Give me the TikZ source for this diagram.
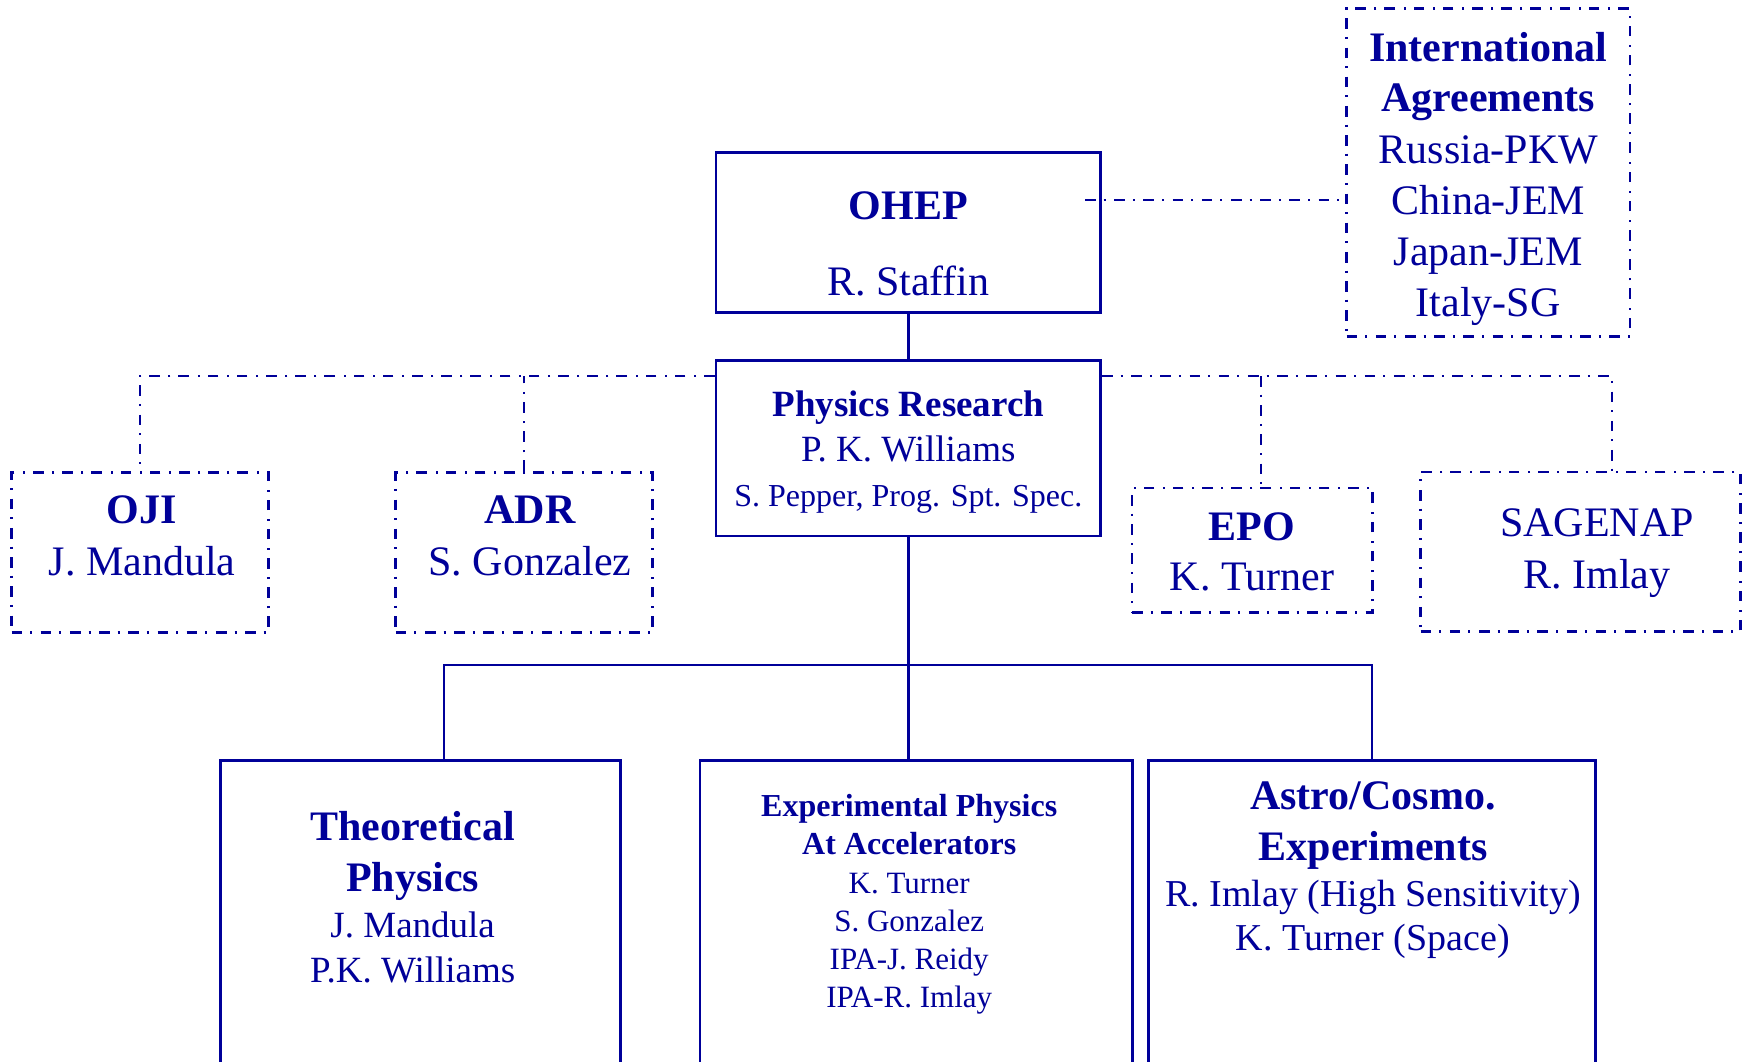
\documentclass[tikz,border=0pt]{standalone}
\usepackage{fontspec}
\setmainfont{Liberation Serif}
\definecolor{ohepBlue}{HTML}{000099}

\begin{document}
\begin{tikzpicture}[x=0.5pt, y=-0.5pt,
	solidline/.style={draw=ohepBlue, line width=1.35pt},
	ddline/.style={draw=ohepBlue, line width=1.35pt, dash pattern=on 5.3pt off 4pt on 1pt off 4.3pt},
	solidbox/.style={solidline, inner sep=0pt},
	ddbox/.style={ddline, inner sep=0pt},
	txt/.style={anchor=base, inner sep=0pt, text=ohepBlue},
	hdB/.style={txt, font=\fontsize{21}{25}\selectfont\bfseries},
	hdR/.style={txt, font=\fontsize{21}{25}\selectfont},
	mdB/.style={txt, font=\fontsize{18.5}{22}\selectfont\bfseries},
	mdR/.style={txt, font=\fontsize{18.5}{22}\selectfont},
	asR/.style={txt, font=\fontsize{19}{22}\selectfont},
	smR/.style={txt, font=\fontsize{16}{19}\selectfont},
	exB/.style={txt, font=\fontsize{16}{19}\selectfont\bfseries},
	exR/.style={txt, font=\fontsize{15.5}{19}\selectfont}]
	\useasboundingbox (0,0) rectangle (1746,1061);
	\clip (0,0) rectangle (1746,1061);
	% boxes
	\node[solidbox, minimum width=192.3pt, minimum height=79.8pt] (ohep) at (908.3,232.5) {};
	\node[solidbox, minimum width=192.3pt, minimum height=87.8pt] (pr) at (908.3,448.2) {};
	\node[ddbox, minimum width=141.7pt, minimum height=164.2pt] (intl) at (1488.3,172.5) {};
	\node[ddbox, minimum width=128.5pt, minimum height=80.2pt] (oji) at (140,552.5) {};
	\node[ddbox, minimum width=128.3pt, minimum height=80.2pt] (adr) at (524.1,552.5) {};
	\node[ddbox, minimum width=120.4pt, minimum height=62.3pt] (epo) at (1252.4,550.3) {};
	\node[ddbox, minimum width=160pt, minimum height=79.8pt] (sag) at (1580.6,551.8) {};
	\node[solidbox, minimum width=200pt, minimum height=170pt] (theo) at (420.7,930.7) {};
	\node[solidbox, minimum width=216.2pt, minimum height=170pt] (exp) at (916.2,930.7) {};
	\node[solidbox, minimum width=223.5pt, minimum height=170pt] (astro) at (1372.2,930.7) {};
	% texts
	\foreach \n/\s/\y/\t in {1/hdB/219/OHEP, 2/hdR/295.7/R. Staffin}
		\node[\s] (ohep-\n) at (908.3,\y) {\t};
	\foreach \n/\s/\y/\t in {1/mdB/416.7/Physics Research, 2/mdR/461.7/P. K. Williams,
		3/smR/506.7/{S. Pepper, Prog. Spt. Spec.}}
		\node[\s] (pr-\n) at (908.3,\y) {\t};
	\foreach \n/\s/\y/\t in {1/hdB/61.7/International, 2/hdB/111.7/Agreements,
		3/hdR/163.3/Russia-PKW, 4/hdR/214/China-JEM, 5/hdR/265/Japan-JEM, 6/hdR/316/Italy-SG}
		\node[\s] (intl-\n) at (1488.3,\y) {\t};
	\foreach \n/\s/\y/\t in {1/hdB/523/OJI, 2/hdR/575/J. Mandula}
		\node[\s] (oji-\n) at (142,\y) {\t};
	\foreach \n/\s/\y/\t in {1/hdB/523/ADR, 2/hdR/575/S. Gonzalez}
		\node[\s] (adr-\n) at (530,\y) {\t};
	\foreach \n/\s/\y/\t in {1/hdB/540/EPO, 2/hdR/590.7/K. Turner}
		\node[\s] (epo-\n) at (1252,\y) {\t};
	\foreach \n/\s/\y/\t in {1/hdR/536.7/SAGENAP, 2/hdR/588/R. Imlay}
		\node[\s] (sag-\n) at (1597,\y) {\t};
	\foreach \n/\s/\y/\t in {1/hdB/840/Theoretical, 2/hdB/891.7/Physics,
		3/mdR/937.3/J. Mandula, 4/mdR/982.3/P.K. Williams}
		\node[\s] (theo-\n) at (412.7,\y) {\t};
	\foreach \n/\s/\y/\t in {1/exB/816/Experimental Physics, 2/exB/854/At Accelerators,
		3/exR/893.3/K. Turner, 4/exR/931.7/S. Gonzalez, 5/exR/969.3/IPA-J. Reidy, 6/exR/1007.7/IPA-R. Imlay}
		\node[\s] (exp-\n) at (909.2,\y) {\t};
	\foreach \n/\s/\y/\t in {1/hdB/809.3/{Astro/Cosmo.}, 2/hdB/860/Experiments,
		3/asR/906/{R. Imlay (High Sensitivity)}, 4/asR/950/{K. Turner (Space)}}
		\node[\s] (astro-\n) at (1373,\y) {\t};
	% solid connectors
	\coordinate (busL) at (444,665);
	\coordinate (busR) at (1372,665);
	\draw[solidline] (ohep.south) -- (pr.north);
	\draw[solidline] (pr.south) -- (pr.south |- exp.north);
	\draw[solidline] (busL |- theo.north) -- (busL) -- (busR) -- (busR |- astro.north);
	% dash-dot connectors
	\coordinate (ohepR) at (1085,200);
	\coordinate (rbus) at (1612,376);
	\coordinate (epoT) at (1261,376);
	\draw[ddline] (ohepR) -- (ohepR -| intl.west);
	\draw[ddline] (pr.west |- rbus) -| (oji.north);
	\draw[ddline] (adr.north) -- (adr.north |- rbus);
	\draw[ddline] (pr.east |- rbus) -- (rbus) -- (rbus |- sag.north);
	\draw[ddline] (epoT) -- (epoT |- epo.north);
\end{tikzpicture}
\end{document}
